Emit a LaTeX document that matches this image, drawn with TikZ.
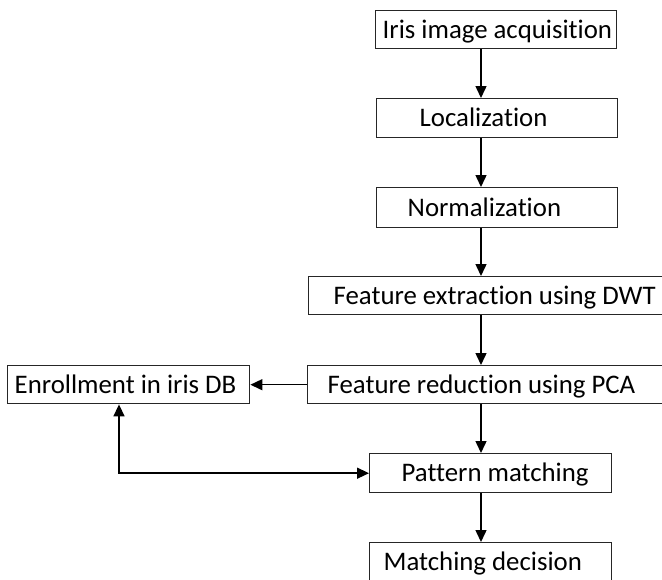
\documentclass[tikz,border=0pt]{standalone}
\usepackage{fontspec}
\setmainfont{Carlito}[Ligatures=NoCommon]
\usetikzlibrary{arrows.meta}
\tikzset{
  box/.style={draw=black!85, line width=1.4pt, rectangle, inner ysep=0pt,
    text height=18pt, text depth=1pt, anchor=north west,
    font=\fontsize{26.8}{30}\selectfont},
  bx/.style n args={2}{inner xsep=#1pt, minimum height=#2pt},
  arr/.style={line width=1.5pt, -{Triangle[width=11pt,length=12pt]}},
  darr/.style={line width=1.5pt, {Triangle[width=11pt,length=12pt]}-{Triangle[width=11pt,length=12pt]}}
}
\newcommand{\bt}[2]{\makebox[#1pt][l]{#2}}
\begin{document}
\begin{tikzpicture}[x=1pt,y=-1pt]
\useasboundingbox (0,0) rectangle (662,579);
\clip (0,0) rectangle (662,579);
\node[box, bx={7}{38}] (acq) at (375,10) {\bt{227}{Iris image acquisition}};
\node[box, bx={43}{39}] (loc) at (376,98) {\bt{155}{Localization}};
\node[box, bx={31}{40}] (norm) at (376,187) {\bt{179}{Normalization}};
\node[box, bx={25}{38}] (dwt) at (308,276) {\bt{350}{Feature extraction using DWT}};
\node[box, bx={20}{38}] (pca) at (307,365) {\bt{360}{Feature reduction using PCA}};
\node[box, bx={7}{38}] (enr) at (7,365) {\bt{228}{Enrollment in iris DB}};
\node[box, bx={32}{39}] (pat) at (369,453) {\bt{178}{Pattern matching}};
\node[box, bx={14}{39}] (dec) at (369,542) {\bt{214}{Matching decision}};
\coordinate (ax) at (481,0);
\coordinate (ex) at (119,0);
\draw[arr] (acq.south -| ax) -- (loc.north -| ax);
\draw[arr] (loc.south -| ax) -- (norm.north -| ax);
\draw[arr] (norm.south -| ax) -- (dwt.north -| ax);
\draw[arr] (dwt.south -| ax) -- (pca.north -| ax);
\draw[arr] (pca.south -| ax) -- (pat.north -| ax);
\draw[arr] (pat.south -| ax) -- (dec.north -| ax);
\draw[arr] (pca.west) -- (enr.east);
\draw[darr] (enr.south -| ex) |- (pat.west);
\end{tikzpicture}
\end{document}
